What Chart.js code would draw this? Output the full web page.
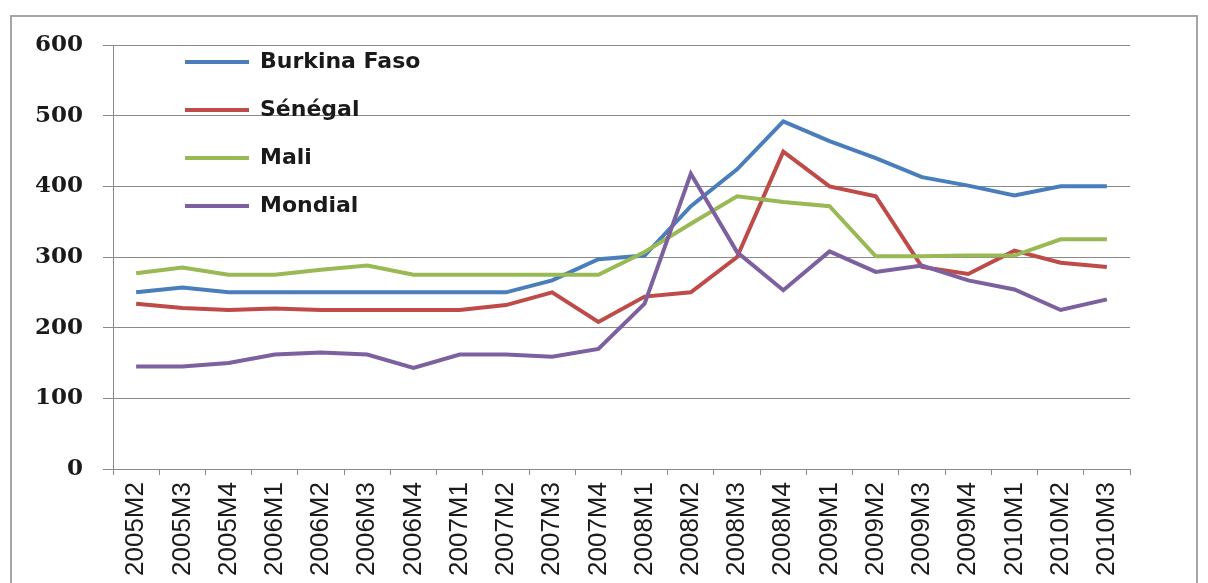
<!DOCTYPE html>
<html>
<head>
<meta charset="utf-8">
<script src="https://cdn.jsdelivr.net/npm/chart.js@4/dist/chart.umd.min.js"></script>
<style>
  html, body { margin: 0; padding: 0; background: #fff; overflow: hidden; }
  #wrap { position: relative; width: 1208px; height: 583px; }
  #frame { position: absolute; left: 10px; top: 15px; width: 1184px; height: 620px; border: 2px solid #a6a6a6; pointer-events: none; }
  canvas { position: absolute; left: 0; top: 0; }
</style>
</head>
<body>
<div id="wrap">
  <canvas id="c" width="1208" height="583"></canvas>
  <div id="frame"></div>
</div>
<script>
const categories = ["2005M2","2005M3","2005M4","2006M1","2006M2","2006M3","2006M4","2007M1","2007M2","2007M3","2007M4",
  "2008M1","2008M2","2008M3","2008M4","2009M1","2009M2","2009M3","2009M4","2010M1","2010M2","2010M3"];
const burkinaFaso = [250, 257, 250, 250, 250, 250, 250, 250, 250, 267, 297, 302, 372, 424, 492, 464, 440, 413, 401, 387, 400, 400];
const senegal     = [234, 228, 225, 227, 225, 225, 225, 225, 232, 250, 208, 244, 250, 300, 449, 400, 386, 286, 276, 309, 292, 286];
const mali        = [277, 285, 275, 275, 282, 288, 275, 275, 275, 275, 275, 307, 347, 386, 378, 372, 301, 301, 302, 302, 325, 325];
const mondial     = [145, 145, 150, 162, 165, 162, 143, 162, 162, 159, 170, 234, 418, 307, 253, 308, 279, 288, 267, 254, 225, 240];
const seriesNames = ["Burkina Faso", "Sénégal", "Mali", "Mondial"];
const yTicks = [0, 100, 200, 300, 400, 500, 600];

const colors = ["#4A7EBB", "#BE4B48", "#98B954", "#7D60A0"];
const seriesData = [burkinaFaso, senegal, mali, mondial];

const datasets = seriesNames.map((name, i) => ({
  label: name,
  data: seriesData[i],
  borderColor: colors[i],
  backgroundColor: colors[i],
  borderWidth: 4,
  pointRadius: 0,
  pointHoverRadius: 0,
  tension: 0,
  fill: false,
  order: seriesNames.length - i
}));

const legendShift = {
  id: 'legendShift',
  afterLayout(chart) {
    const lg = chart.legend;
    if (!lg) return;
    lg.left = 159;
    lg.top = 25;
  }
};

new Chart(document.getElementById('c'), {
  type: 'line',
  data: { labels: categories, datasets },
  plugins: [legendShift],
  options: {
    responsive: false,
    devicePixelRatio: 1,
    animation: false,
    layout: { padding: { left: 15, top: 45, right: 78, bottom: 0 } },
    plugins: {
      tooltip: { enabled: false },
      legend: {
        display: true,
        position: 'chartArea',
        align: 'start',
        labels: {
          boxWidth: 64,
          boxHeight: 4,
          padding: 26,
          color: '#1a1a1a',
          font: { family: 'DejaVu Sans', weight: 'bold', size: 22 },
          sort: (a, b) => a.datasetIndex - b.datasetIndex,
          generateLabels(chart) {
            const items = Chart.defaults.plugins.legend.labels.generateLabels(chart);
            return items.map(it => Object.assign(it, { lineWidth: 0 }));
          }
        }
      }
    },
    scales: {
      x: {
        type: 'category',
        offset: true,
        grid: {
          display: true,
          offset: true,
          drawOnChartArea: false,
          drawTicks: true,
          tickLength: 6,
          color: '#8a8a8a'
        },
        border: { display: true, color: '#8a8a8a', width: 1 },
        ticks: {
          autoSkip: false,
          minRotation: 90,
          maxRotation: 90,
          padding: 7,
          color: '#1a1a1a',
          font: { family: 'Liberation Sans', size: 26 }
        }
      },
      y: {
        min: 0,
        max: 600,
        afterBuildTicks(scale) { scale.ticks = yTicks.map(v => ({ value: v })); },
        grid: {
          color: '#8a8a8a',
          lineWidth: 1,
          drawTicks: true,
          tickLength: 10
        },
        border: { display: true, color: '#8a8a8a', width: 1 },
        ticks: {
          padding: 20,
          color: '#1a1a1a',
          font: { family: 'DejaVu Serif', weight: 'bold', size: 23 }
        }
      }
    }
  }
});
</script>
</body>
</html>
